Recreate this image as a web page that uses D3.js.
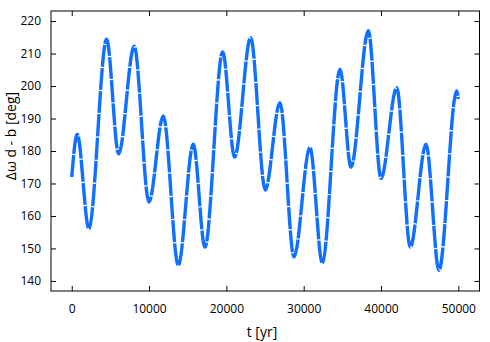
<!DOCTYPE html>
<html>
<head>
<meta charset="utf-8">
<script src="https://cdn.jsdelivr.net/npm/d3@7"></script>
<style>
  body { margin: 0; background: #fff; }
  text { font-family: "Open Sans", sans-serif; fill: #000; }
</style>
</head>
<body>
<script>
// values (turning points of the curve)
var tYears = [0, 710, 2220, 4510, 6070, 8080, 9990, 11840, 13780, 15720, 17230,
  19520, 21070, 23140, 25030, 26930, 28750, 30810, 32410, 34700, 36120, 38360,
  40000, 42030, 43790, 45820, 47500, 49790, 50000];
var dOmega = [172, 185.2, 156.1, 214.4, 179.1, 212.3, 164.3, 190.8, 144.8, 182.1, 150.4,
  210.5, 178.1, 214.9, 168.0, 194.9, 147.4, 181.1, 145.5, 205.2, 175.0, 217.0,
  171.6, 199.5, 150.4, 182.1, 143.3, 198.5, 196];
var xTicks = [0, 10000, 20000, 30000, 40000, 50000];
var yTicks = [140, 150, 160, 170, 180, 190, 200, 210, 220];

var w = 490, h = 342;
var margin = {left: 51, right: 10.5, top: 11, bottom: 51};

var svg = d3.select("body").append("svg")
    .attr("width", w)
    .attr("height", h);

var xScale = d3.scaleLinear()
    .domain([-2680, 52740])
    .range([margin.left, w - margin.right]);

var yScale = d3.scaleLinear()
    .domain([136.9, 223.1])
    .range([h - margin.bottom, margin.top]);

var data = tYears.map(function(t, i) { return {t: t, v: dOmega[i]}; });

// the data curve (dense points in the original, drawn as a thick broken line)
var line = d3.line()
    .x(function(d) { return xScale(d.t); })
    .y(function(d) { return yScale(d.v); })
    .curve(d3.curveMonotoneX);

svg.append("path")
    .datum(data)
    .attr("d", line)
    .attr("fill", "none")
    .attr("stroke", "#0f6fff")
    .attr("stroke-width", 3.4)
    .attr("stroke-dasharray", "22,1.2");

// axes, ticks pointing inwards on all sides
var x0 = margin.left, x1 = w - margin.right, y0 = h - margin.bottom, y1 = margin.top;

svg.append("g")
    .attr("transform", "translate(0," + y0 + ")")
    .call(d3.axisBottom(xScale).tickValues(xTicks).tickFormat(d3.format("d"))
      .tickSizeInner(-5).tickSizeOuter(0).tickPadding(13));
svg.append("g")
    .attr("transform", "translate(0," + y1 + ")")
    .call(d3.axisTop(xScale).tickValues(xTicks).tickSizeInner(-5).tickSizeOuter(0).tickFormat(""));
svg.append("g")
    .attr("transform", "translate(" + x0 + ",0)")
    .call(d3.axisLeft(yScale).tickValues(yTicks).tickFormat(d3.format("d"))
      .tickSizeInner(-5).tickSizeOuter(0).tickPadding(10));
svg.append("g")
    .attr("transform", "translate(" + x1 + ",0)")
    .call(d3.axisRight(yScale).tickValues(yTicks).tickSizeInner(-5).tickSizeOuter(0).tickFormat(""));

svg.selectAll(".domain").remove();
svg.selectAll(".tick line").attr("stroke", "#000");
svg.selectAll(".tick text")
    .style("font-family", "'Open Sans', sans-serif")
    .style("font-size", "12px");

svg.append("rect")
    .attr("x", x0).attr("y", y1)
    .attr("width", x1 - x0).attr("height", y0 - y1)
    .attr("fill", "none")
    .attr("stroke", "#000")
    .attr("stroke-width", 1);

// axis titles
svg.append("text")
    .attr("x", 262).attr("y", 337)
    .attr("text-anchor", "middle")
    .style("font-size", "14px")
    .text("t [yr]");

svg.append("text")
    .attr("transform", "translate(16,136) rotate(-90)")
    .attr("text-anchor", "middle")
    .style("font-size", "14px")
    .text("Δω d - b [deg]");
</script>
</body>
</html>
